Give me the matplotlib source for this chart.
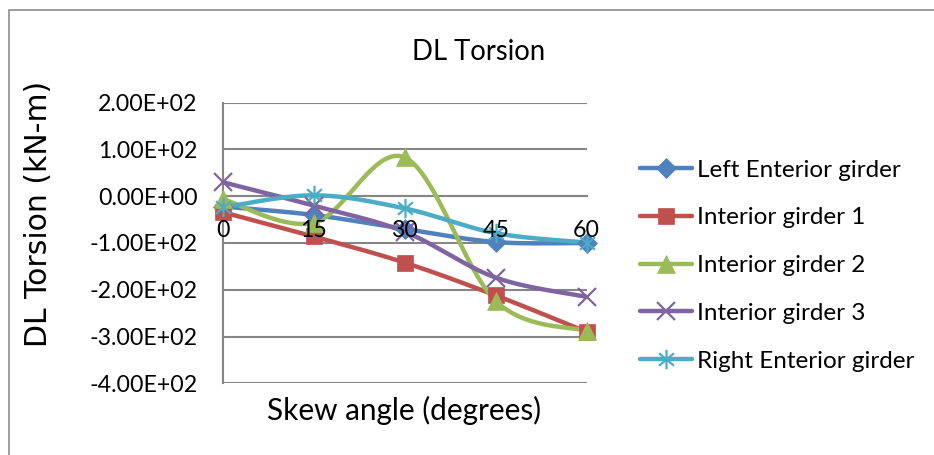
import numpy as np
import matplotlib
matplotlib.use('Agg')
import matplotlib.pyplot as plt
from matplotlib.patches import Rectangle
from matplotlib.path import Path

# data
skew = [0, 15, 30, 45, 60]
left_ext = [-22, -40, -70, -98, -100]
int1 = [-34, -86, -142, -212, -290]
int2 = [-6, -57, 83, -224, -288]
int3 = [30, -20, -76, -174, -215]
right_ext = [-24, 2, -26, -79, -99]

labels = ['Left Enterior girder', 'Interior girder 1', 'Interior girder 2',
          'Interior girder 3', 'Right Enterior girder']
colors = ['#4F81BD', '#C0504D', '#9BBB59', '#8064A2', '#4BACC6']

# excel style asterisk: vertical bar plus two diagonals
a = np.deg2rad(40)
ca, sa = np.cos(a), np.sin(a)
star = Path([(0, -1), (0, 1), (-ca, -sa), (ca, sa), (-ca, sa), (ca, -sa)],
            [Path.MOVETO, Path.LINETO] * 3)
markers = ['D', 's', '^', 'x', star]
msizes = [10, 12, 13, 13, 14]


def smooth(x, y, n=40):
    # excel-like smoothed line (bezier through the points)
    x = np.asarray(x, float)
    y = np.asarray(y, float)
    px = np.concatenate([[x[0]], x, [x[-1]]])
    py = np.concatenate([[y[0]], y, [y[-1]]])
    xs, ys = [], []
    t = np.linspace(0, 1, n)
    for i in range(1, len(x)):
        p0 = np.array([px[i], py[i]])
        p3 = np.array([px[i + 1], py[i + 1]])
        c1 = p0 + (np.array([px[i + 1], py[i + 1]]) - np.array([px[i - 1], py[i - 1]])) / 6
        c2 = p3 - (np.array([px[i + 2], py[i + 2]]) - np.array([px[i], py[i]])) / 6
        b = ((1 - t) ** 3)[:, None] * p0 + (3 * (1 - t) ** 2 * t)[:, None] * c1 \
            + (3 * (1 - t) * t ** 2)[:, None] * c2 + (t ** 3)[:, None] * p3
        xs.extend(b[:, 0])
        ys.extend(b[:, 1])
    return xs, ys


plt.rcParams['font.family'] = ['Lato', 'DejaVu Sans']

fig = plt.figure(figsize=(9.34, 4.55), dpi=100)
fig.patches.append(Rectangle((9 / 934, -0.1), 1.2, 1.1 - 10 / 455,
                             transform=fig.transFigure, fill=False,
                             edgecolor='#8c8c8c', linewidth=1.2))
ax = fig.add_axes([0.2384, 0.1576, 0.3897, 0.6167])

series = [left_ext, int1, int2, int3, right_ext]
handles = []
for vals, lab, c, m, ms in zip(series, labels, colors, markers, msizes):
    mew = 1.6 if m in ('x', star) else 0.5
    sx, sy = smooth(skew, vals)
    ax.plot(sx, sy, color=c, linewidth=3.2, solid_capstyle='round', zorder=3)
    ax.plot(skew, vals, linestyle='none', marker=m, markersize=ms, color=c,
            markeredgewidth=mew, zorder=4, clip_on=False)
    h, = ax.plot([], [], color=c, linewidth=3.2, marker=m, markersize=ms,
                 markeredgewidth=mew, solid_capstyle='round')
    handles.append(h)

ax.set_xlim(0, 60)
ax.set_ylim(-400, 200)
ax.set_xticks(skew)
ax.set_yticks(np.arange(-400, 201, 100))
ax.set_yticklabels(['-4.00E+02', '-3.00E+02', '-2.00E+02', '-1.00E+02',
                    '0.00E+00', '1.00E+02', '2.00E+02'])
ax.grid(axis='y', color='#868686', linewidth=1.5)
ax.set_axisbelow(True)
ax.xaxis.set_zorder(5)
for s in ['top', 'right']:
    ax.spines[s].set_visible(False)
ax.spines['left'].set_color('#868686')
ax.spines['left'].set_linewidth(1.5)
ax.spines['bottom'].set_position(('data', 0))
ax.spines['bottom'].set_color('#868686')
ax.spines['bottom'].set_linewidth(1.5)
ax.tick_params(axis='y', length=0, pad=18, labelsize=16.7)
ax.tick_params(axis='x', length=0, pad=17, labelsize=16.7)

fig.text(0.512, 0.886, 'DL Torsion', ha='center', va='center', fontsize=19.8)
fig.text(0.041, 0.53, 'DL Torsion (kN-m)', rotation=90, ha='center',
         va='center', fontsize=21.5, family='DejaVu Sans')
fig.text(0.433, 0.098, 'Skew angle (degrees)', ha='center', va='center',
         fontsize=21.4)

fig.legend(handles, labels, loc='center left', bbox_to_anchor=(0.685, 0.416),
           frameon=False, fontsize=17.5, handlelength=2.15, handletextpad=0.2,
           labelspacing=1.1, borderaxespad=0, borderpad=0)

fig.savefig('out.png', dpi=100)
